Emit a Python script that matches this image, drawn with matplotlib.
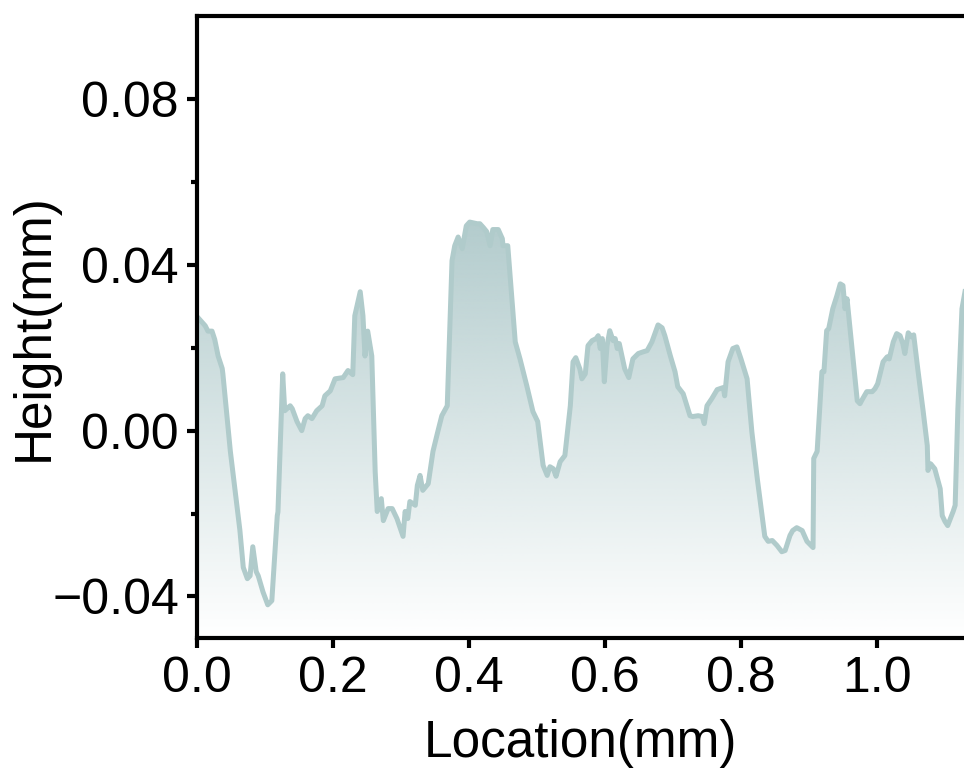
import numpy as np
import matplotlib
matplotlib.use("Agg")
import matplotlib.pyplot as plt
from matplotlib.colors import to_rgb

# profile
location = [0.000, 0.012, 0.016, 0.022, 0.026, 0.031, 0.037, 0.038, 0.049, 0.063,
            0.068, 0.074, 0.078, 0.082, 0.087, 0.090, 0.097, 0.104, 0.110, 0.118,
            0.119, 0.126, 0.129, 0.137, 0.140, 0.147, 0.154, 0.159, 0.163, 0.169,
            0.176, 0.184, 0.188, 0.196, 0.203, 0.215, 0.222, 0.229, 0.232, 0.240,
            0.244, 0.247, 0.251, 0.257, 0.262, 0.265, 0.271, 0.274, 0.281, 0.287,
            0.294, 0.299, 0.303, 0.306, 0.310, 0.313, 0.321, 0.324, 0.328, 0.332,
            0.340, 0.347, 0.354, 0.360, 0.368, 0.372, 0.375, 0.379, 0.384, 0.390,
            0.396, 0.401, 0.412, 0.416, 0.421, 0.426, 0.431, 0.435, 0.443, 0.449,
            0.450, 0.457, 0.463, 0.468, 0.475, 0.485, 0.494, 0.501, 0.509, 0.515,
            0.519, 0.524, 0.528, 0.534, 0.541, 0.549, 0.553, 0.557, 0.563, 0.566,
            0.571, 0.575, 0.581, 0.587, 0.590, 0.593, 0.596, 0.599, 0.603, 0.607,
            0.612, 0.615, 0.618, 0.621, 0.629, 0.635, 0.641, 0.649, 0.656, 0.662,
            0.669, 0.678, 0.684, 0.688, 0.696, 0.703, 0.707, 0.715, 0.725, 0.729,
            0.737, 0.743, 0.746, 0.750, 0.757, 0.765, 0.774, 0.776, 0.781, 0.788,
            0.794, 0.800, 0.803, 0.809, 0.816, 0.824, 0.831, 0.835, 0.840, 0.846,
            0.853, 0.860, 0.865, 0.872, 0.876, 0.882, 0.890, 0.897, 0.906, 0.907,
            0.912, 0.919, 0.922, 0.926, 0.929, 0.935, 0.941, 0.946, 0.950, 0.953,
            0.956, 0.960, 0.971, 0.975, 0.979, 0.985, 0.993, 0.997, 1.001, 1.009,
            1.015, 1.018, 1.024, 1.029, 1.034, 1.038, 1.041, 1.046, 1.051, 1.054,
            1.060, 1.068, 1.074, 1.075, 1.079, 1.085, 1.093, 1.096, 1.100, 1.104,
            1.112, 1.115, 1.119, 1.125, 1.130]
height = [0.0275, 0.0253, 0.0240, 0.0240, 0.0220, 0.0180, 0.0150, 0.0137, -0.0050, -0.0240,
          -0.0330, -0.0357, -0.0350, -0.0280, -0.0340, -0.0350, -0.0389, -0.0420, -0.0410, -0.0205,
          -0.0196, 0.0137, 0.0048, 0.0060, 0.0053, 0.0022, 0.0000, 0.0029, 0.0036, 0.0029,
          0.0048, 0.0060, 0.0084, 0.0096, 0.0125, 0.0128, 0.0145, 0.0135, 0.0277, 0.0335,
          0.0277, 0.0180, 0.0240, 0.0180, -0.0099, -0.0195, -0.0164, -0.0217, -0.0188, -0.0188,
          -0.0212, -0.0236, -0.0255, -0.0195, -0.0212, -0.0171, -0.0180, -0.0132, -0.0108, -0.0144,
          -0.0128, -0.0050, -0.0003, 0.0036, 0.0060, 0.0260, 0.0410, 0.0446, 0.0467, 0.0439,
          0.0494, 0.0503, 0.0499, 0.0499, 0.0490, 0.0480, 0.0446, 0.0485, 0.0485, 0.0463,
          0.0446, 0.0446, 0.0318, 0.0214, 0.0173, 0.0108, 0.0046, 0.0022, -0.0084, -0.0108,
          -0.0087, -0.0092, -0.0110, -0.0075, -0.0060, 0.0060, 0.0166, 0.0176, 0.0149, 0.0125,
          0.0137, 0.0205, 0.0217, 0.0222, 0.0229, 0.0198, 0.0222, 0.0118, 0.0205, 0.0241,
          0.0217, 0.0222, 0.0198, 0.0210, 0.0149, 0.0128, 0.0173, 0.0186, 0.0190, 0.0193,
          0.0214, 0.0255, 0.0248, 0.0229, 0.0181, 0.0142, 0.0106, 0.0089, 0.0036, 0.0034,
          0.0036, 0.0034, 0.0017, 0.0060, 0.0077, 0.0099, 0.0104, 0.0084, 0.0166, 0.0198,
          0.0202, 0.0173, 0.0157, 0.0125, -0.0003, -0.0116, -0.0205, -0.0255, -0.0267, -0.0265,
          -0.0277, -0.0292, -0.0289, -0.0253, -0.0241, -0.0234, -0.0241, -0.0267, -0.0282, -0.0067,
          -0.0050, 0.0142, 0.0142, 0.0241, 0.0246, 0.0294, 0.0325, 0.0354, 0.0350, 0.0294,
          0.0318, 0.0253, 0.0072, 0.0065, 0.0077, 0.0094, 0.0094, 0.0101, 0.0113, 0.0166,
          0.0178, 0.0173, 0.0214, 0.0234, 0.0229, 0.0210, 0.0186, 0.0236, 0.0226, 0.0231,
          0.0149, 0.0046, -0.0036, -0.0096, -0.0080, -0.0092, -0.0140, -0.0205, -0.0219, -0.0229,
          -0.0195, -0.0180, 0.0053, 0.0294, 0.0340]

x_ticks = [0.0, 0.2, 0.4, 0.6, 0.8, 1.0]
y_ticks = [-0.04, 0.00, 0.04, 0.08]

line_color = "#b0cbcb"
fill_color = "#b3cccd"

plt.rcParams['font.family'] = ['Liberation Sans', 'DejaVu Sans']

fig = plt.figure(figsize=(9.64, 7.69), dpi=100)
ax = fig.add_axes([0.2044, 0.1704, 0.7956, 0.8088])

x = np.array(location)
y = np.array(height)
xmin, xmax = 0.0, 1.128
ymin, ymax = -0.05, 0.10

# gradient fill under the curve, clipped to the area below the line
poly = ax.fill_between(x, y, ymin, facecolor="none", edgecolor="none")
rgb = to_rgb(fill_color)
grad = np.zeros((256, 2, 4))
grad[..., :3] = rgb
grad[..., 3] = np.linspace(1.0, 0.0, 256)[:, None]
im = ax.imshow(grad, extent=[xmin, x.max(), ymin, y.max()], aspect="auto",
               origin="upper", zorder=1)
im.set_clip_path(poly.get_paths()[0], transform=ax.transData)

ax.plot(x, y, color=line_color, lw=3.6, zorder=2, solid_joinstyle="round")

ax.set_xlim(xmin, xmax)
ax.set_ylim(ymin, ymax)
ax.set_xticks(x_ticks)
ax.set_xticklabels([f"{t:.1f}" for t in x_ticks])
ax.set_yticks(y_ticks)
ax.set_yticklabels([f"{t:.2f}".replace("-", "\u2212") for t in y_ticks])
ax.set_yticks([-0.02, 0.02, 0.06], minor=True)

for side in ["left", "top", "bottom"]:
    ax.spines[side].set_linewidth(3)
ax.spines["right"].set_visible(False)

ax.tick_params(axis="both", which="major", direction="out", length=7, width=3,
               labelsize=36, pad=6)
ax.tick_params(axis="y", which="minor", direction="out", length=4, width=3)

ax.set_xlabel("Location(mm)", fontsize=37, labelpad=12)
ax.set_ylabel("Height(mm)", fontsize=37)
ax.yaxis.set_label_coords(-0.18, 0.5)

fig.savefig("out.png", dpi=100)
